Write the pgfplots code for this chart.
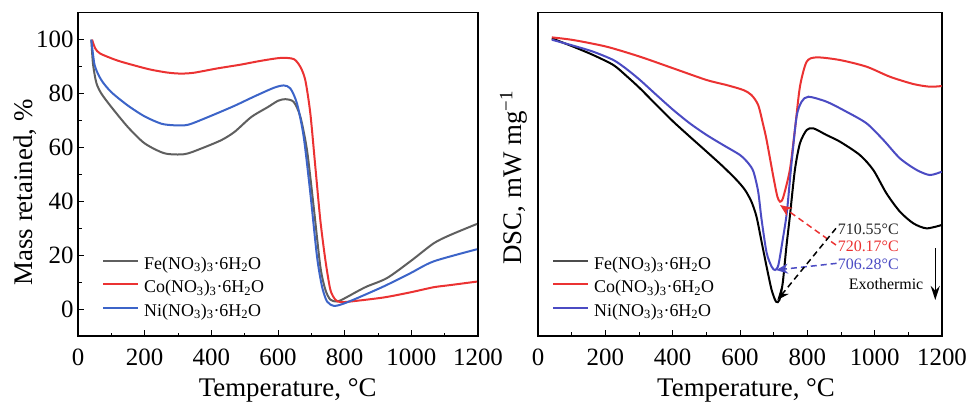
\documentclass[border=0pt]{standalone}
\usepackage{fontspec}
\setmainfont{Liberation Serif}
\usepackage{pgfplots}
\pgfplotsset{compat=1.18}
\usetikzlibrary{arrows.meta}
\definecolor{cfe}{RGB}{95,95,95}
\definecolor{cco}{RGB}{235,50,50}
\definecolor{cni}{RGB}{60,100,200}
\definecolor{cni2}{RGB}{75,75,195}
\pgfplotsset{
  panel/.style={
    scale only axis, height=323.3bp, anchor=south west,
    xmin=0, xmax=1200, xtick={0,200,...,1200}, minor x tick num=1,
    tick align=inside, xtick pos=left, ytick pos=left,
    major tick length=6bp, minor tick length=3.5bp,
    axis line style={line width=1.3bp},
    every tick/.style={black, line width=1bp},
    /pgf/number format/assume math mode=true,
    /pgf/number format/1000 sep={},
    ticklabel style={font=\fontsize{25}{25}\selectfont},
    xticklabel style={yshift=-9bp},
    yticklabel style={xshift=-1bp},
    label style={font=\fontsize{27}{27}\selectfont},
    xlabel={Temperature, °C},
    legend cell align=left,
    legend image code/.code={\draw[##1] (0bp,6bp) -- (35bp,6bp);},
    legend style={draw=none, fill=none, inner sep=0pt, row sep=0pt, column sep=5bp,
      font=\fontsize{18}{18}\selectfont,
      nodes={inner sep=0pt, text height=14bp, text depth=9.5bp}},
    every axis plot/.append style={line width=2bp, smooth, tension=0.45},
  }
}
\newcommand{\lgfe}{Fe(NO\textsubscript{3})\textsubscript{3}·6H\textsubscript{2}O}
\newcommand{\lgco}{Co(NO\textsubscript{3})\textsubscript{3}·6H\textsubscript{2}O}
\newcommand{\lgni}{Ni(NO\textsubscript{3})\textsubscript{3}·6H\textsubscript{2}O}
\begin{document}
\begin{tikzpicture}
\useasboundingbox (0,0) rectangle (967bp,402bp);
\begin{axis}[panel, at={(78bp,66bp)}, width=400bp,
  ymin=-10, ymax=110, ytick={0,20,...,100}, minor y tick num=1,
  ylabel={Mass retained, \%},
  xlabel style={at={(axis description cs:0.524,0)}, anchor=base, yshift=-60bp},
  ylabel style={at={(axis description cs:-0.1125,0.444)}, anchor=base},
  legend style={at={(axis cs:72,20.1)}, anchor=north west}]
\addplot[cfe] coordinates {(40,100)(45,91)(55,84)(70,80)(100,75)(150,67.5)(200,61.5)(260,57.8)(320,57.5)(370,59.6)(430,62.7)(470,65.8)(520,71.3)(570,75)(600,77.3)(622,77.9)(647,76.9)(667,71.4)(687,59)(707,38)(727,15.8)(742,7.2)(757,3.5)(777,2.8)(797,3.8)(837,6.5)(867,8.4)(927,11.5)(997,17.7)(1067,24.4)(1117,27.5)(1197,31.6)};
\addlegendentry{\lgfe}
\addplot[cco] coordinates {(42,100)(52,96.7)(67,94.8)(117,92.3)(167,90.5)(217,88.9)(267,87.8)(307,87.4)(347,87.7)(417,89.3)(487,90.7)(547,92.1)(607,93.2)(647,92.8)(667,89.9)(682,84.9)(697,72.6)(712,52.8)(727,33)(742,18.3)(757,7.2)(772,3.5)(787,2.6)(817,2.8)(917,4.3)(997,6.2)(1067,8.1)(1117,8.9)(1197,10.2)};
\addlegendentry{\lgco}
\addplot[cni] coordinates {(40,100)(50,90.5)(70,85)(100,80.5)(150,75.5)(200,71.5)(250,68.8)(290,68.2)(330,68.4)(387,71.1)(467,75.3)(527,78.8)(587,82.1)(617,83)(637,81.9)(657,76.3)(677,64)(697,43)(717,19.5)(732,8.4)(747,2.8)(767,1.2)(787,1.6)(827,3.5)(917,8.4)(997,13.3)(1067,17.7)(1197,22.2)};
\addlegendentry{\lgni}
\end{axis}
\begin{axis}[panel, at={(538bp,66bp)}, width=404bp,
  ymin=0, ymax=970, ytick=\empty,
  ylabel={DSC, mW mg\textsuperscript{\textminus 1}},
  xlabel style={at={(axis description cs:0.515,0)}, anchor=base, yshift=-60bp},
  ylabel style={at={(axis description cs:-0.041,0.49)}, anchor=base},
  legend style={at={(axis cs:41.6,243)}, anchor=north west}]
\addlegendimage{line width=2bp, color=black!70}
\addlegendentry{\lgfe}
\addlegendimage{line width=2bp, color=cco}
\addlegendentry{\lgco}
\addlegendimage{line width=2bp, color=cni2}
\addlegendentry{\lgni}
\addplot[black] coordinates {(41,893)(105,868)(164,843)(224,813)(263,780)(303,743)(352,693)(402,643)(451,598)(501,553)(550,508)(590,468)(615,438)(634,403)(649,358)(664,283)(679,208)(694,138)(707,103)(717,108)(727,160)(738,270)(748,358)(763,498)(778,578)(798,618)(818,623)(857,603)(897,583)(956,543)(996,498)(1035,428)(1075,373)(1115,338)(1154,323)(1199,333)};
\addplot[cco] coordinates {(41,896)(105,888)(204,868)(303,838)(402,803)(501,768)(560,753)(610,738)(634,723)(654,693)(669,633)(679,588)(699,478)(711,418)(719,403)(728,415)(748,498)(763,618)(778,748)(798,823)(828,836)(897,828)(976,808)(1045,778)(1115,756)(1164,748)(1199,750)};
\addplot[cni2] coordinates {(41,889)(105,871)(164,853)(224,828)(263,801)(303,768)(352,723)(402,678)(451,638)(501,603)(550,573)(600,543)(625,518)(640,493)(654,433)(664,350)(679,250)(694,208)(704,198)(714,213)(727,290)(739,370)(753,518)(768,658)(783,703)(803,718)(857,703)(916,673)(976,638)(1026,588)(1075,533)(1125,498)(1164,483)(1199,493)};
\draw[cco, line width=1.5bp, dash pattern=on 6bp off 4bp, -{Stealth[length=12bp,width=10bp]}] (axis cs:885,273) -- (axis cs:719,393);
\draw[cni2, line width=1.5bp, dash pattern=on 6bp off 4bp, -{Stealth[length=12bp,width=10bp]}] (axis cs:887,218) -- (axis cs:707,198);
\draw[black, line width=1.5bp, dash pattern=on 6bp off 4bp, -{Stealth[length=12bp,width=10bp]}] (axis cs:885,323) -- (axis cs:711,108);
\node[anchor=west, inner sep=0pt, font=\fontsize{16}{16}\selectfont, text=black!85] at (axis cs:890,320) {710.55°C};
\node[anchor=west, inner sep=0pt, font=\fontsize{16}{16}\selectfont, text=cco] at (axis cs:890,268) {720.17°C};
\node[anchor=west, inner sep=0pt, font=\fontsize{16}{16}\selectfont, text=cni2] at (axis cs:890,216) {706.28°C};
\node[inner sep=0pt, font=\fontsize{16}{16}\selectfont] at (axis cs:1034,156) {Exothermic};
\draw[black, line width=1.5bp, -{Stealth[length=14bp,width=9bp]}] (axis cs:1180,263) -- (axis cs:1180,108);
\end{axis}
\end{tikzpicture}
\end{document}
